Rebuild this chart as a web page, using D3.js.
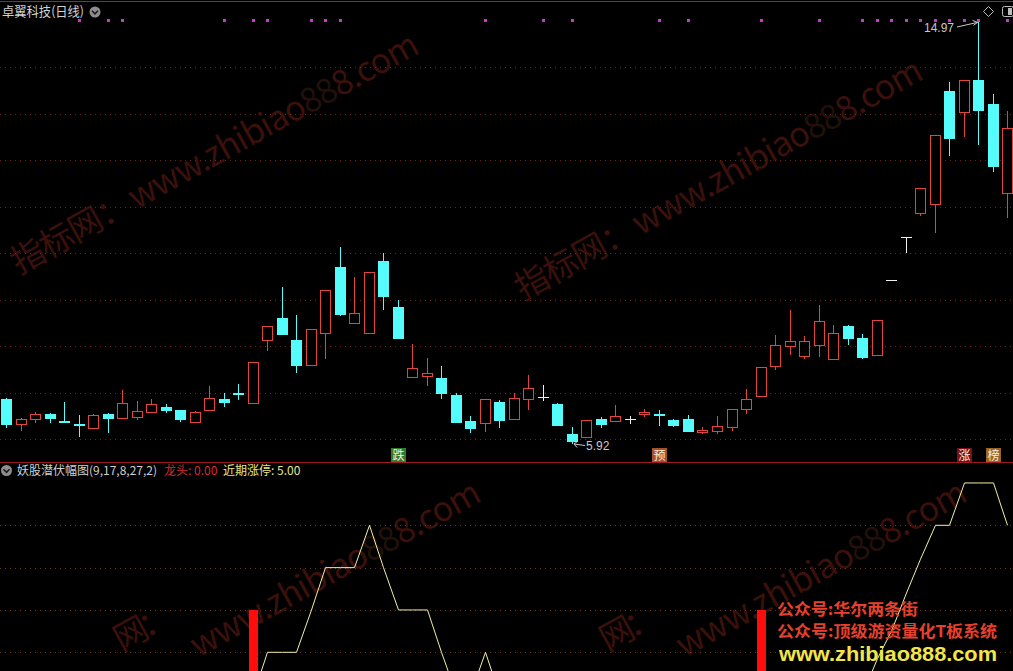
<!DOCTYPE html>
<html><head><meta charset="utf-8">
<script src="https://cdn.jsdelivr.net/npm/d3@7"></script>
<style>
html,body{margin:0;padding:0;background:#000;overflow:hidden}
svg{display:block}
text{font-family:"Liberation Sans","Noto Sans CJK SC",sans-serif}
.cjk{font-family:"Noto Sans CJK SC","Liberation Sans",sans-serif}
</style></head><body>
<svg id="c" width="1013" height="671"></svg>
<script>
// ---------------- data ----------------
const stockName = "卓翼科技(日线)";
const days = Array.from({length: 70}, (_, i) => "D" + (i + 1));
const open  = [6.86,6.32,6.42,6.54,6.38,6.33,6.24,6.54,6.46,6.48,6.57,6.69,6.62,6.37,6.63,6.86,7.00,6.78,8.12,8.60,
               8.13,7.60,8.27,9.70,8.50,8.29,9.83,8.84,7.33,7.35,7.31,6.95,6.39,6.35,6.80,6.42,6.87,6.91,6.75,6.11,
               6.05,6.44,6.39,6.44,6.54,6.53,6.41,6.43,6.16,6.18,6.26,6.64,6.92,7.58,8.01,7.79,8.03,7.71,8.43,8.17,
               7.81,9.41,10.35,10.87,11.05,13.48,13.03,13.72,13.20,11.28];
const high  = [6.88,6.46,6.57,6.55,6.80,6.52,6.54,6.55,7.05,6.82,6.86,6.75,6.63,6.61,7.14,6.98,7.18,7.65,8.42,9.26,
               8.67,8.37,9.20,10.13,9.48,9.59,10.00,8.99,8.04,7.74,7.57,6.98,6.49,6.85,6.84,7.00,7.38,7.16,6.77,6.25,
               6.40,6.47,6.73,6.50,6.65,6.62,6.43,6.51,6.25,6.49,6.64,7.08,7.55,8.23,8.77,8.21,8.88,8.45,8.45,8.26,
               8.55,9.41,10.35,11.39,12.53,13.68,13.71,14.97,13.41,13.05];
const low   = [6.26,6.18,6.35,6.37,6.36,6.07,6.22,6.14,6.42,6.41,6.56,6.57,6.39,6.35,6.62,6.70,6.85,6.78,7.90,8.26,
               7.45,7.60,7.71,8.67,8.50,8.29,8.80,8.18,7.33,7.15,6.89,6.37,6.14,6.14,6.26,6.42,6.62,6.82,6.31,5.92,
               6.05,6.26,6.37,6.33,6.48,6.30,6.29,6.18,6.10,6.10,6.18,6.54,6.92,7.48,7.81,7.73,7.77,7.71,8.05,7.74,
               7.81,9.41,10.00,10.80,10.44,12.11,12.50,12.35,11.77,10.76];
const close = [6.33,6.43,6.54,6.46,6.37,6.32,6.52,6.46,6.77,6.61,6.75,6.63,6.44,6.59,6.88,6.80,6.99,7.65,8.42,8.26,
               7.59,8.37,9.20,8.69,8.72,9.59,9.08,8.18,7.52,7.43,7.00,6.37,6.24,6.85,6.41,6.88,7.09,6.91,6.31,5.96,
               6.40,6.33,6.49,6.44,6.57,6.52,6.31,6.18,6.19,6.29,6.64,6.85,7.55,8.02,8.10,8.10,8.54,8.29,8.18,7.76,
               8.55,9.41,10.35,11.39,12.53,12.48,13.71,13.08,11.88,12.68];
// upper-panel marker dots (days flagged)
const dotDays = [5,7,8,15,17,18,21,22,23,33,37,39,45,47,52,56,59,60,61,62,63,64,65,66,67,69];
// signal tags
const signalDays = [27,45,66,68];
const signalText = ["跌","预","涨","榜"];
// price grid levels
const priceGrid = [6,7,8,9,10,11,12,13,14];
// lower indicator
const indName = "妖股潜伏幅图(9,17,8,27,2)";
const recentLimit = [0,0,0,0,0,0,0,0,0,0,0,0,0,0,0,0,0,1,2,2,
                     2,3,4,4,4,5,4,3,3,3,2,1,1,2,1,1,1,1,1,1,
                     1,1,1,1,1,1,1,1,1,1,1,1,1,1,1,1,1,1,1,1,
                     1.85,2.5,3.4,4.2,5,5,6,6,6,5];
const dragonDays = [17,52];
const dragonVals = [3,3];
const dragonLast = 0;
const indGrid = [2,3,4,5];
const promoLines = ["公众号:华尔两条街","公众号:顶级游资量化T板系统","www.zhibiao888.com"];

// ---------------- drawing ----------------
const W = 1013, H = 671;
const svg = d3.select("#c");
svg.append("rect").attr("width", W).attr("height", H).attr("fill", "#000");

const x = d3.scalePoint().domain(days).range([6, 1007.2]);
const y = d3.scaleLinear().domain([6, 14]).range([439, 67]);
const yi = d3.scaleLinear().domain([2, 5]).range([652.3, 525.3]);
const cxOf = i => Math.round(x(days[i]));

// watermarks
const wm = svg.append("g").attr("class","cjk").attr("font-size", 34).attr("fill", "#3c100b");
function wmLatin(g, ox, oy) {
  const t = g.append("text").attr("class","cjk").attr("x", ox).attr("y", oy)
    .attr("textLength", 326).attr("lengthAdjust", "spacing");
  t.append("tspan").text("www.zhibiao");
  t.append("tspan").attr("fill", "#22100a").text("88");
  t.append("tspan").text("8.com");
}
[[19,275],[523,301]].forEach(([a,b]) => {
  const g = wm.append("g").attr("transform", `translate(${a},${b}) rotate(-29)`);
  g.append("text").attr("class","cjk").attr("x", 0).attr("y", 0)
    .attr("textLength", 132).attr("lengthAdjust", "spacing").text("指标网：");
  wmLatin(g, 134, 0);
});
[[81,723],[567,723]].forEach(([a,b]) => {
  const g = wm.append("g").attr("transform", `translate(${a},${b}) rotate(-29)`);
  g.append("text").attr("class","cjk").attr("x", 70).attr("y", -42)
    .attr("textLength", 62).attr("lengthAdjust", "spacing").text("网：");
  wmLatin(g, 134, 0);
});

// top border
svg.append("line").attr("x1",0).attr("x2",W).attr("y1",1.5).attr("y2",1.5)
  .attr("stroke","#4a4a4a").attr("stroke-width",1);

// price grid
svg.append("g").selectAll("line").data(priceGrid).join("line")
  .attr("x1", 0).attr("x2", W)
  .attr("y1", d => Math.round(y(d)) + 0.5).attr("y2", d => Math.round(y(d)) + 0.5)
  .attr("stroke", "#70251a").attr("stroke-dasharray", "1,4");

// candles
const RED = "#e0463a", CYAN = "#54fcfc", WHITE = "#f0f0f0";
const cg = svg.append("g");
days.forEach((d, i) => {
  const cx = cxOf(i);
  const o = open[i], c = close[i], h = high[i], l = low[i];
  const yo = Math.round(y(o)), yc = Math.round(y(c)), yh = Math.round(y(h)), yl = Math.round(y(l));
  if (c > o) {
    const top = yc, bot = Math.max(yo, yc + 1);
    if (yh < top) cg.append("line").attr("x1", cx+0.5).attr("x2", cx+0.5).attr("y1", yh).attr("y2", top).attr("stroke", RED);
    if (yl > bot) cg.append("line").attr("x1", cx+0.5).attr("x2", cx+0.5).attr("y1", bot).attr("y2", yl).attr("stroke", RED);
    cg.append("rect").attr("x", cx - 4.5).attr("y", top + 0.5).attr("width", 10).attr("height", bot - top)
      .attr("fill", "#000").attr("stroke", RED);
  } else if (c < o) {
    cg.append("line").attr("x1", cx+0.5).attr("x2", cx+0.5).attr("y1", yh).attr("y2", yl + 1).attr("stroke", CYAN);
    cg.append("rect").attr("x", cx - 5).attr("y", yo).attr("width", 11).attr("height", Math.max(yc - yo, 1) + 1)
      .attr("fill", CYAN);
  } else {
    if (yl > yh) cg.append("line").attr("x1", cx+0.5).attr("x2", cx+0.5).attr("y1", yh).attr("y2", yl).attr("stroke", WHITE);
    cg.append("line").attr("x1", cx - 5).attr("x2", cx + 6).attr("y1", yo + 0.5).attr("y2", yo + 0.5).attr("stroke", WHITE);
  }
});

// marker dots
svg.append("g").selectAll("rect").data(dotDays).join("rect")
  .attr("x", d => cxOf(d) - 1).attr("y", 19).attr("width", 3).attr("height", 3).attr("fill", "#c43cc8");

// max / min labels
const iMax = d3.maxIndex(high), iMin = d3.minIndex(low);
const lab = svg.append("g").attr("fill", "#c8c8c8").attr("font-size", 12);
lab.append("text").attr("x", 954).attr("y", 32).attr("text-anchor", "end").text(high[iMax].toFixed(2));
{
  const tx = cxOf(iMax) + 0.5, ty = y(high[iMax]);
  lab.append("path").attr("d", `M957,27 L${tx - 1},${ty + 0.5} M${tx - 6},${ty - 1.5} L${tx - 1},${ty + 0.5} L${tx - 5},${ty + 3.5}`)
    .attr("stroke", "#c8c8c8").attr("fill", "none");
  const bx = cxOf(iMin) + 1, by = Math.round(y(low[iMin]));
  lab.append("path").attr("d", `M${bx + 12},${by + 2.5} L${bx + 1},${by + 1} M${bx + 5},${by - 2} L${bx + 1},${by + 1} L${bx + 4},${by + 4.5}`)
    .attr("stroke", "#c8c8c8").attr("fill", "none");
  lab.append("text").attr("x", bx + 13).attr("y", by + 7).text(low[iMin].toFixed(2));
}

// title
svg.append("text").attr("class","cjk").attr("x", 2).attr("y", 16).attr("font-size", 13)
  .attr("fill", "#d2d2d2").attr("textLength", 82).attr("lengthAdjust","spacingAndGlyphs").text(stockName);
function dropIcon(cx, cy) {
  svg.append("circle").attr("cx", cx).attr("cy", cy).attr("r", 5.5).attr("fill", "#8e8e8e");
  svg.append("path").attr("d", `M${cx-3},${cy-1.2} L${cx},${cy+1.8} L${cx+3},${cy-1.2}`)
    .attr("stroke", "#1a1a1a").attr("stroke-width", 1.6).attr("fill", "none");
}
dropIcon(95, 12);
// top-right icons
svg.append("path").attr("d", "M988.5,6.5 L993.5,11.5 L988.5,16.5 L983.5,11.5 Z").attr("fill","none").attr("stroke","#bdbdbd");
svg.append("rect").attr("x", 1002.5).attr("y", 6.5).attr("width", 11).attr("height", 10).attr("rx", 2)
  .attr("fill","none").attr("stroke","#bdbdbd");
svg.append("rect").attr("x", 1008).attr("y", 8).attr("width", 4).attr("height", 7).attr("fill","#bdbdbd");

// signal tags
const sigBg = {"跌":"#2f7d2a","预":"#a8502a","涨":"#7a1018","榜":"#9a6428"};
const sg = svg.append("g");
signalDays.forEach((d, k) => {
  const cx = cxOf(d);
  sg.append("rect").attr("x", cx - 7).attr("y", 448).attr("width", 15).attr("height", 14).attr("fill", sigBg[signalText[k]]);
  sg.append("text").attr("class","cjk").attr("x", cx + 0.5).attr("y", 459.5).attr("text-anchor","middle")
    .attr("font-size", 12).attr("fill", "#f4efe6").text(signalText[k]);
});

// separator
svg.append("line").attr("x1",0).attr("x2",W).attr("y1",462.5).attr("y2",462.5).attr("stroke","#9c1c1c");

// lower panel
svg.append("clipPath").attr("id","low").append("rect").attr("x",0).attr("y",463).attr("width",W).attr("height",H-463);
const lg = svg.append("g").attr("clip-path","url(#low)");
lg.selectAll("line.g").data(indGrid).join("line").attr("class","g")
  .attr("x1", 0).attr("x2", W)
  .attr("y1", d => Math.round(yi(d)) + 0.5).attr("y2", d => Math.round(yi(d)) + 0.5)
  .attr("stroke", "#6e3616").attr("stroke-dasharray", "1,4");
lg.selectAll("rect.dr").data(dragonDays).join("rect").attr("class","dr")
  .attr("x", (d) => cxOf(d) - 4).attr("width", 9)
  .attr("y", (d, k) => Math.round(yi(dragonVals[k])))
  .attr("height", (d, k) => yi(0) - yi(dragonVals[k]))
  .attr("fill", "#ff0d0d");
lg.append("path").datum(recentLimit)
  .attr("d", d3.line().x((v, i) => cxOf(i) + 0.5).y(v => yi(v)))
  .attr("fill","none").attr("stroke","#f4efa6").attr("stroke-width",1);

// lower legend
dropIcon(6.5, 470.5);
const leg = svg.append("g").attr("font-size", 12);
leg.append("text").attr("class","cjk").attr("x", 17).attr("y", 475).attr("fill","#cfcfcf").text(indName);
leg.append("text").attr("class","cjk").attr("x", 164).attr("y", 475).attr("fill","#d82a2a")
  .text("龙头: " + dragonLast.toFixed(2));
leg.append("text").attr("class","cjk").attr("x", 223).attr("y", 475).attr("fill","#e8e48a")
  .text("近期涨停: " + recentLimit[recentLimit.length - 1].toFixed(2));

// promo overlay
const pg = svg.append("g").attr("font-weight","bold");
pg.append("text").attr("class","cjk").attr("x", 777).attr("y", 615).attr("font-size", 16).attr("fill","#e8402c")
  .attr("textLength",141).attr("lengthAdjust","spacingAndGlyphs").text(promoLines[0]);
pg.append("text").attr("class","cjk").attr("x", 777).attr("y", 637).attr("font-size", 16).attr("fill","#e8402c")
  .attr("textLength",220).attr("lengthAdjust","spacingAndGlyphs").text(promoLines[1]);
pg.append("text").attr("x", 779).attr("y", 661).attr("font-size", 20).attr("fill","#f2e64a")
  .attr("font-family","'Liberation Sans',sans-serif")
  .attr("textLength",218).attr("lengthAdjust","spacingAndGlyphs").text(promoLines[2]);
</script>
</body></html>
